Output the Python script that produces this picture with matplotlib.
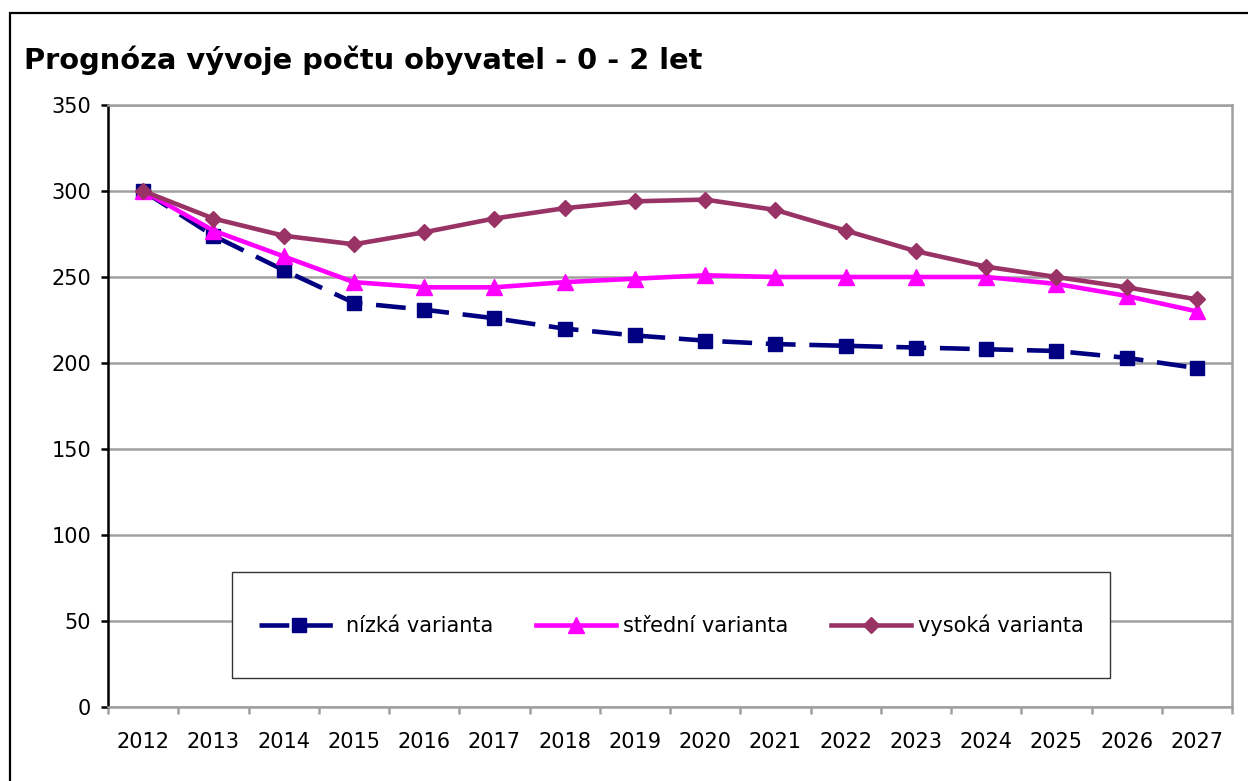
import matplotlib
matplotlib.use("Agg")
import matplotlib.pyplot as plt
from matplotlib.patches import Rectangle
import numpy as np

years = [str(y) for y in range(2012, 2028)]
nizka = [300, 274, 254, 235, 231, 226, 220, 216, 213, 211, 210, 209, 208, 207, 203, 197]
stredni = [300, 277, 262, 247, 244, 244, 247, 249, 251, 250, 250, 250, 250, 246, 239, 230]
vysoka = [300, 284, 274, 269, 276, 284, 290, 294, 295, 289, 277, 265, 256, 250, 244, 237]
labels = ["nízká varianta", "střední varianta", "vysoká varianta"]

GRID = "#a0a0a0"
FS = 15
plt.rcParams['font.family'] = ['DejaVu Sans']

fig = plt.figure(figsize=(12.48, 7.81), dpi=100)
ax = fig.add_axes([108 / 1248, 74 / 781, 1124 / 1248, 602 / 781])

x = np.arange(len(years))
ax.plot(x, nizka, color="#000080", lw=3.3, dashes=(6.5, 3), marker="s", ms=10,
        label=labels[0], zorder=3)
ax.plot(x, stredni, color="#ff00ff", lw=3.3, marker="^", ms=11,
        label=labels[1], zorder=4)
ax.plot(x, vysoka, color="#993366", lw=3.3, marker="D", ms=8.5,
        label=labels[2], zorder=5)

ax.set_xlim(-0.5, len(years) - 0.5)
ax.set_ylim(0, 350)
ax.set_yticks(range(0, 351, 50))
ax.yaxis.grid(True, color=GRID, lw=1.8)
ax.set_axisbelow(True)

ax.set_xticks(x)
ax.set_xticklabels(years, fontsize=FS)
ax.set_xticks(np.arange(-0.5, len(years)), minor=True)
ax.tick_params(axis="x", which="major", length=0, pad=18)
ax.tick_params(axis="x", which="minor", length=5, width=1.8, color=GRID)
ax.tick_params(axis="y", labelsize=FS, length=5, width=1.8, color="black", pad=7)

for s in ["top", "right", "bottom"]:
    ax.spines[s].set_color(GRID)
    ax.spines[s].set_linewidth(1.8)
ax.spines["left"].set_color("black")
ax.spines["left"].set_linewidth(1.8)

# legend box
ax.add_patch(Rectangle((0.1103, 0.048), 0.7815, 0.176, transform=ax.transAxes,
                       facecolor="white", edgecolor="#333333", lw=1, zorder=6))
leg = ax.legend(loc="center", bbox_to_anchor=(0.501, 0.136), ncol=3, frameon=False,
                fontsize=FS, handlelength=3.85, handletextpad=0.33,
                columnspacing=2.05, numpoints=1)
leg.set_zorder(7)

fig.text(24 / 1248, 1 - 60 / 781, "Prognóza vývoje počtu obyvatel - 0 - 2 let",
         fontsize=20.8, fontweight="bold", va="center", ha="left")

# outer chart border
fig.patches.append(Rectangle((10 / 1248, -0.05), 1.1, 1 - 13 / 781 + 0.05,
                             transform=fig.transFigure, fill=False,
                             edgecolor="black", lw=1.6))

fig.savefig("out.png", dpi=100)
